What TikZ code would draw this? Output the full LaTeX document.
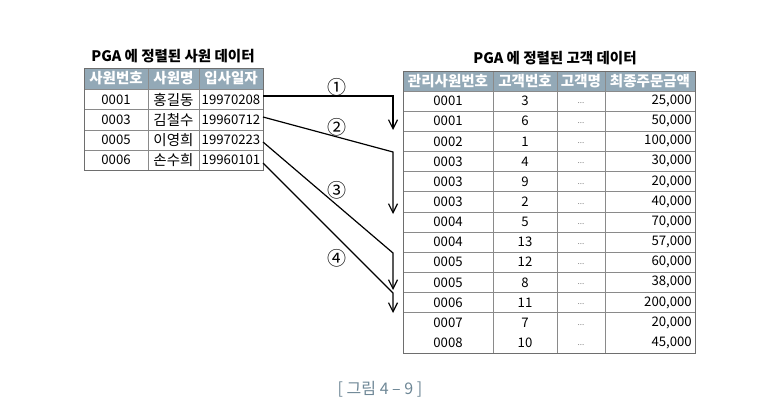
\documentclass[tikz,border=0pt]{standalone}
\usepackage{fontspec}
\setmainfont{Noto Sans CJK KR}
\usetikzlibrary{arrows.meta}
\definecolor{hdr}{HTML}{93A9B7}
\definecolor{gridc}{HTML}{8A8A8A}
\definecolor{capc}{HTML}{6E8796}
\begin{document}
\begin{tikzpicture}[x=1pt,y=-1pt,
  cell/.style={inner sep=0pt,font=\fontsize{13.2}{13.2}\selectfont},
  kcell/.style={inner sep=0pt,font=\fontsize{14.5}{14.5}\selectfont},
  hcell/.style={inner sep=0pt,text=white,font=\fontsize{14.5}{14.5}\selectfont\bfseries},
  title/.style={inner sep=0pt,font=\fontsize{14.5}{14.5}\selectfont\bfseries},
  dots/.style={inner sep=0pt,text=gray,font=\fontsize{8}{8}\selectfont},
  link/.style={line width=1.2pt,-{Straight Barb[length=9pt,width=9pt,line width=1.2pt]}},
  lab/.style={inner sep=0pt,font=\fontsize{19}{19}\selectfont}]
\useasboundingbox (0,0) rectangle (757,406);
% ---------- left table ----------
\node[title] (ltitle) at (173,56) {PGA 에 정렬된 사원 데이터};
\fill[hdr] (84,68) rectangle (263,89);
\foreach \y in {89,109.5,130,150}{\draw[gridc,line width=0.6pt] (84,\y) -- (263,\y);}
\foreach \x in {148,199}{\draw[gridc,line width=0.6pt] (\x,68) -- (\x,170);}
\draw[gridc!80!black,line width=0.8pt] (84,68) rectangle (263,170);
\node[hcell] (lh1) at (116,78.5) {사원번호};
\node[hcell] (lh2) at (173.5,78.5) {사원명};
\node[hcell] (lh3) at (231,78.5) {입사일자};
\foreach \a/\b/\c [count=\i] in {0001/홍길동/19970208,0003/김철수/19960712,0005/이영희/19970223,0006/손수희/19960101}{
  \pgfmathsetmacro{\yy}{99.5+(\i-1)*20.25}
  \node[cell] (l\i a) at (116,\yy) {\a};
  \node[kcell] (l\i b) at (173.5,\yy) {\b};
  \node[cell] (l\i c) at (231,\yy) {\c};
}
% ---------- right table ----------
\node[title] (rtitle) at (555,58) {PGA 에 정렬된 고객 데이터};
\fill[hdr] (403,71) rectangle (695,91);
\foreach \k in {0,...,11}{\pgfmathsetmacro{\yy}{91+\k*20.15}\draw[gridc,line width=0.6pt] (403,\yy) -- (695,\yy);}
\foreach \x in {493,557,605}{\draw[gridc,line width=0.6pt] (\x,71) -- (\x,353);}
\draw[gridc!80!black,line width=0.8pt] (403,71) rectangle (695,353);
\node[hcell] (rh1) at (448,81) {관리사원번호};
\node[hcell] (rh2) at (525,81) {고객번호};
\node[hcell] (rh3) at (581,81) {고객명};
\node[hcell] (rh4) at (650,81) {최종주문금액};
\foreach \a/\b/\d [count=\i] in {0001/3/25{,}000,0001/6/50{,}000,0002/1/100{,}000,0003/4/30{,}000,0003/9/20{,}000,0003/2/40{,}000,0004/5/70{,}000,0004/13/57{,}000,0005/12/60{,}000,0005/8/38{,}000,0006/11/200{,}000,0007/7/20{,}000,0008/10/45{,}000}{
  \pgfmathsetmacro{\yy}{101+(\i-1)*20.15}
  \node[cell] (r\i a) at (448,\yy) {\a};
  \node[cell] (r\i b) at (525,\yy) {\b};
  \node[dots] (r\i c) at (581,\yy+2) {...};
  \node[cell,anchor=east] (r\i d) at (692,\yy) {\d};
}
% ---------- arrows ----------
\coordinate (s1) at (263,96);  \coordinate (k1) at (393,96);  \coordinate (e1) at (393,130);
\coordinate (s2) at (263,117); \coordinate (k2) at (393,152); \coordinate (e2) at (393,214);
\coordinate (s3) at (263,142); \coordinate (k3) at (393,253); \coordinate (e3) at (393,290);
\coordinate (s4) at (263,163); \coordinate (k4) at (393,293); \coordinate (e4) at (393,313);
\draw[link] (s1) -- (k1) -- (e1);
\draw[link] (s2) -- (k2) -- (e2);
\draw[link] (s3) -- (k3) -- (e3);
\draw[link] (s4) -- (k4) -- (e4);
\node[lab] (n1) at (337,87) {①};
\node[lab] (n2) at (337,127) {②};
\node[lab] (n3) at (337,190) {③};
\node[lab] (n4) at (337,258) {④};
% ---------- caption ----------
\node[inner sep=0pt,text=capc,font=\fontsize{16}{16}\selectfont] (cap) at (380,389) {[ 그림 4 – 9 ]};
\end{tikzpicture}
\end{document}
